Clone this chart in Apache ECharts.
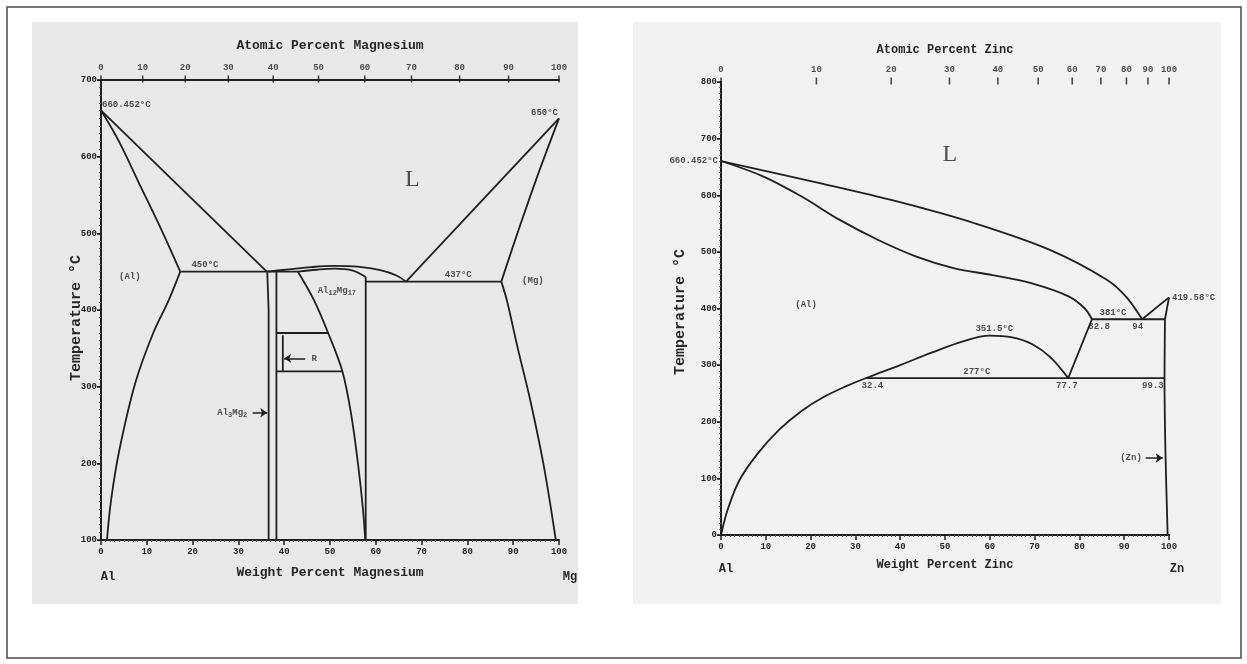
<!DOCTYPE html>
<html><head><meta charset="utf-8">
<script src="https://cdn.jsdelivr.net/npm/echarts@6/dist/echarts.min.js"></script>
<style>html,body{margin:0;padding:0;background:#fff}#c{width:1247px;height:664px}</style>
</head><body><div id="c"></div>
<script>
// ================= Al–Mg diagram (x: weight % Mg, y: °C) =================
const mgTempMin = 100, mgTempMax = 700, mgTempStep = 100;
const mgAtomicTickLabels = ['0','10','20','30','40','50','60','70','80','90','100'];
const mgAtomicTickAtWeight = [0, 9.1, 18.4, 27.8, 37.6, 47.5, 57.6, 67.8, 78.3, 89.0, 100];

const mgLiquidusAl   = [[0,660.452],[36.2,450]];
const mgSolidusAl    = [[0,660.452],[4,619],[8.5,563],[13,507],[17.3,450]];
const mgSolvusAl     = [[17.3,450],[14.8,413],[11.4,370],[7.5,305],[4,217],[2.2,152],[1.3,100]];
const mgEutectic450  = [[17.3,450],[43,450]];
const mgLiquidusMid  = [[36.2,450],[41,453],[46,456],[51,457.5],[56,456.5],[61,452],[64.5,445],[66.6,437]];
const mgGammaSolidus = [[43,450],[47,452.5],[51,454],[55,451.5],[57.8,443]];
const mgBetaLeft     = [[36.3,450],[36.6,400],[36.6,100]];
const mgBetaRight    = [[38.3,450],[38.3,100]];
const mgGammaLeft    = [[43,450],[46.5,413],[49.6,370],[52.7,320],[54.7,261],[56.2,195],[57.2,140],[57.7,100]];
const mgGammaRight   = [[57.8,443],[57.8,100]];
const mgEpsTop       = [[38.3,370],[49.6,370]];
const mgEpsBottom    = [[38.3,320],[52.7,320]];
const mgEpsSide      = [[39.7,367],[39.7,320]];
const mgEutectic437  = [[57.8,437],[87.4,437]];
const mgLiquidusMg   = [[100,650],[66.6,437]];
const mgSolidusMg    = [[100,650],[95.3,575],[91.2,505],[87.4,437]];
const mgSolvusMg     = [[87.4,437],[88.6,413],[91,350],[93.7,283],[96.7,196],[99.3,100]];
const mgArrows       = [[[33.1,266],[36.3,266]], [[44.6,337],[40.0,337]]];
const mgTexts = [
  [0,660.452,'660.452°C','lb'], [100,650,'650°C','rb'],
  [6.3,443,'(Al)','c'], [22.7,450,'450°C','b'],
  [51.5,425,'Al{s|12}Mg{s|17}','c'], [78,437,'437°C','b'],
  [94.3,438,'(Mg)','c'], [32.6,266,'Al{s|3}Mg{s|2}','r'], [45.3,337,'R','l']
];
const mgBig = [[68,570,'L']];

// ================= Al–Zn diagram (x: weight % Zn, y: °C) =================
const znTempMin = 0, znTempMax = 800, znTempStep = 100;
const znAtomicTickLabels = ['0','10','20','30','40','50','60','70','80','90','100'];
const znAtomicTickAtWeight = [0, 21.3, 38.0, 51.0, 61.8, 70.8, 78.4, 84.8, 90.5, 95.3, 100];

const znLiquidus    = [[0,660.452],[22.3,621],[39.3,589],[56.4,551],[73.4,503.5],[86.2,450.5],[90.4,421],[94,381]];
const znSolidus     = [[0,660.452],[9.5,633],[18,597.7],[26.5,556.5],[35.1,521],[43.6,491.7],[52.1,471],[60.6,459],[69.2,444.7],[77.7,421],[81.2,400],[82.8,381]];
const znLiquidusZn  = [[94,381],[100,419.58]];
const znSolidusZn   = [[99.1,381],[100,419.58]];
const znEutectic381 = [[82.8,381],[99.1,381]];
const znSolvusZn    = [[99.1,381],[99.0,277],[99.2,150],[99.7,0]];
const znEutectoid277= [[32.4,277],[99.0,277]];
const znGapDome     = [[0,0],[1.5,45],[4,95],[8,142],[13,186],[18,219],[23,244],[28,263],[33,279],[40,300],[47,322],[54,342],[60,352],[65,349],[69.5,337],[73.5,314],[77.5,277]];
const znSolvusAl    = [[77.5,277],[82.8,381]];
const znArrows      = [[[94.8,136],[98.6,136]]];
const znTexts = [
  [0,660.452,'660.452°C','r'], [100,419.58,'419.58°C','l'],
  [19,406,'(Al)','c'], [87.5,381,'381°C','b'],
  [84.4,381,'82.8','t'], [93,381,'94','t'],
  [61,352,'351.5°C','b'], [57.1,277,'277°C','b'],
  [33.8,277,'32.4','t'], [77.2,277,'77.7','t'], [96.4,277,'99.3','t'],
  [94.6,136,'(Zn)','r']
];
const znBig = [[51.1,671,'L']];

// ================= build =================
const FONT = '"Liberation Mono","DejaVu Sans Mono",monospace';
const INK = '#1f1f1f';
const TXT = '#262626';
const chart = echarts.init(document.getElementById('c'));

const ANCH = {
  c:  {align:'center', verticalAlign:'middle', offset:[0,0]},
  b:  {align:'center', verticalAlign:'bottom', offset:[0,-2]},
  t:  {align:'center', verticalAlign:'top',    offset:[0,3]},
  l:  {align:'left',   verticalAlign:'middle', offset:[3,0]},
  r:  {align:'right',  verticalAlign:'middle', offset:[-3,0]},
  lb: {align:'left',   verticalAlign:'bottom', offset:[1,-1]},
  rb: {align:'right',  verticalAlign:'bottom', offset:[-1,-1]}
};
const RICH = {s:{fontFamily:FONT, fontWeight:'bold', fontSize:7, color:TXT, verticalAlign:'bottom', padding:[5,0,0,0]}};

function lineSeries(g, pts, smooth){
  return {type:'line', xAxisIndex:g*2, yAxisIndex:g*2, data:pts, smooth:smooth?0.35:false,
    showSymbol:false, symbol:'none', lineStyle:{color:INK, width:1.8}, silent:true, animation:false, clip:false, z:3};
}
function textSeries(g, items, big){
  return {type:'scatter', xAxisIndex:g*2, yAxisIndex:g*2, symbolSize:0, silent:true, clip:false, animation:false, z:5,
    data: items.map(([x,y,t,a]) => ({value:[x,y], label:Object.assign({show:true, position:[0,0], formatter:t,
      fontFamily: big ? '"Liberation Serif","DejaVu Serif",serif' : FONT,
      fontWeight: big ? 'normal' : 'bold', fontSize: big ? 24 : 9, color:TXT, rich:RICH}, ANCH[a||'c'])}))};
}
function atomicTicks(g, pos, labels, ymax){
  return {type:'scatter', xAxisIndex:g*2, yAxisIndex:g*2, symbol:'rect', symbolSize:[1.6,7], symbolOffset:[0,-1],
    itemStyle:{color:INK}, silent:true, clip:false, animation:false, z:4,
    label:{show:true, position:'top', distance:3, fontFamily:FONT, fontWeight:'bold', fontSize:9, color:TXT},
    data: pos.map((w,i) => ({value:[w,ymax], label:{formatter:labels[i]}}))};
}
function arrowSeries(g, arr){
  return {type:'lines', coordinateSystem:'cartesian2d', xAxisIndex:g*2, yAxisIndex:g*2, silent:true, animation:false, z:4,
    symbol:['none','arrow'], symbolSize:[0,7], lineStyle:{color:INK, width:1.5, opacity:1, curveness:0},
    data: arr.map(([a,b]) => ({coords:[a,b]}))};
}
const axisLbl = {fontFamily:FONT, fontWeight:'bold', fontSize:9, color:TXT};
function xAxes(g, bottomName, topName, gapB, gapT, fs){
  const ns = {fontFamily:FONT, fontWeight:'bold', fontSize:fs, color:TXT};
  return [
    {gridIndex:g, type:'value', min:0, max:100, interval:10, position:'bottom',
     axisLine:{show:true, lineStyle:{color:INK, width:2}}, axisTick:{show:true, length:5, lineStyle:{color:INK, width:1.5}},
     minorTick:{show:true, splitNumber:10, length:2, lineStyle:{color:'#555'}},
     axisLabel:Object.assign({margin:7}, axisLbl), splitLine:{show:false},
     name:bottomName, nameLocation:'middle', nameGap:gapB, nameTextStyle:ns},
    {gridIndex:g, type:'value', min:0, max:100, interval:10, position:'top',
     axisLine:{show:true, lineStyle:{color:INK, width:2}}, axisTick:{show:false}, axisLabel:{show:false}, splitLine:{show:false},
     name:topName, nameLocation:'middle', nameGap:gapT, nameTextStyle:ns}
  ];
}
function yAxes(g, mn, mx, step){
  return [
    {gridIndex:g, type:'value', min:mn, max:mx, interval:step, position:'left',
     axisLine:{show:true, lineStyle:{color:INK, width:2}}, axisTick:{show:true, length:4, lineStyle:{color:INK, width:1.5}},
     minorTick:{show:true, splitNumber:10, length:2, lineStyle:{color:'#555'}},
     axisLabel:Object.assign({margin:4}, axisLbl), splitLine:{show:false}},
    {gridIndex:g, type:'value', min:mn, max:mx, interval:step, position:'right',
     axisLine:{show:true, lineStyle:{color:INK, width:2}}, axisTick:{show:true, inside:true, length:4, lineStyle:{color:INK}},
     minorTick:{show:true, splitNumber:10, length:2, lineStyle:{color:'#666'}},
     axisLabel:{show:false}, splitLine:{show:false}}
  ];
}

const series = [];
[[mgLiquidusAl,false],[mgSolidusAl,true],[mgSolvusAl,true],[mgEutectic450,false],[mgLiquidusMid,true],
 [mgGammaSolidus,true],[mgBetaLeft,false],[mgBetaRight,false],[mgGammaLeft,true],[mgGammaRight,false],
 [mgEpsTop,false],[mgEpsBottom,false],[mgEpsSide,false],[mgEutectic437,false],[mgLiquidusMg,false],
 [mgSolidusMg,true],[mgSolvusMg,true]].forEach(([d,s]) => series.push(lineSeries(0,d,s)));
[[znLiquidus,true],[znSolidus,true],[znLiquidusZn,false],[znSolidusZn,false],[znEutectic381,false],
 [znSolvusZn,true],[znEutectoid277,false],[znGapDome,true],[znSolvusAl,false]].forEach(([d,s]) => series.push(lineSeries(1,d,s)));
series.push(textSeries(0, mgTexts), textSeries(0, mgBig, true), atomicTicks(0, mgAtomicTickAtWeight, mgAtomicTickLabels, mgTempMax), arrowSeries(0, mgArrows));
series.push(textSeries(1, znTexts), textSeries(1, znBig, true), atomicTicks(1, znAtomicTickAtWeight, znAtomicTickLabels, znTempMax), arrowSeries(1, znArrows));

const cornerText = (x,y,t) => ({type:'text', x:x, y:y, z:10, style:{text:t, font:'bold 12px '+FONT, fill:TXT, align:'center', verticalAlign:'middle'}});
const yTitle = (x,y) => ({type:'text', x:x, y:y, rotation:Math.PI/2, z:10, style:{text:'Temperature °C', font:'bold 15px '+FONT, fill:TXT, align:'center', verticalAlign:'middle'}});

chart.setOption({
  animation:false,
  backgroundColor:'#ffffff',
  grid:[{left:101, top:80, width:458, height:460}, {left:721, top:82, width:448, height:453}],
  xAxis:[...xAxes(0,'Weight Percent Magnesium','Atomic Percent Magnesium',26,28,13), ...xAxes(1,'Weight Percent Zinc','Atomic Percent Zinc',24,26,12)],
  yAxis:[...yAxes(0,mgTempMin,mgTempMax,mgTempStep), ...yAxes(1,znTempMin,znTempMax,znTempStep)],
  graphic:[
    {type:'rect', z:-10, shape:{x:7, y:7, width:1234, height:651}, style:{fill:'#fff', stroke:'#4a4a4a', lineWidth:1.5}},
    {type:'rect', z:-9, shape:{x:32, y:22, width:546, height:582}, style:{fill:'#e8e8e8'}},
    {type:'rect', z:-9, shape:{x:633, y:22, width:588, height:582}, style:{fill:'#f1f1f1'}},
    cornerText(108,577,'Al'), cornerText(570,577,'Mg'), cornerText(726,569,'Al'), cornerText(1177,569,'Zn'),
    yTitle(76,318), yTitle(680,312)
  ],
  series
});
</script></body></html>
